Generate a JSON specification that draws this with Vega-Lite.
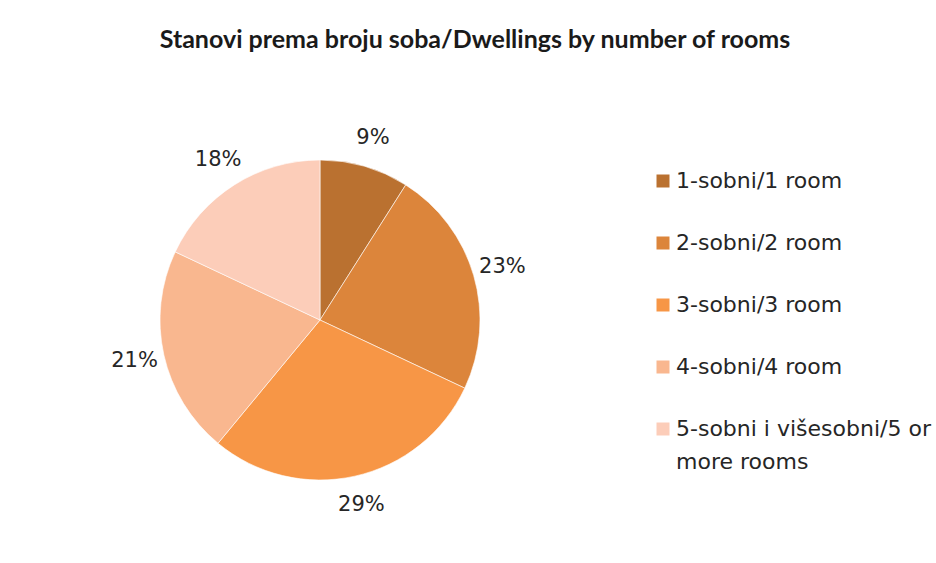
{
  "$schema": "https://vega.github.io/schema/vega-lite/v6.json",
  "width": 640,
  "height": 520,
  "autosize": "none",
  "padding": {"top": 60, "left": 0, "right": 296, "bottom": 0},
  "background": "white",
  "config": {"view": {"stroke": null}, "style": {"guide-label": {"lineHeight": 33}}},
  "title": {
    "text": "Stanovi prema broju soba/Dwellings by number of rooms",
    "font": "Lato",
    "fontSize": 25,
    "fontWeight": "bold",
    "color": "#1a1a1a",
    "anchor": "middle",
    "dx": 155,
    "dy": 25,
    "baseline": "alphabetic",
    "offset": 12
  },
  "data": {
    "values": [
      {"category": "1-sobni/1 room", "value": 9, "label": "9%", "order": 1},
      {"category": "2-sobni/2 room", "value": 23, "label": "23%", "order": 2},
      {"category": "3-sobni/3 room", "value": 29, "label": "29%", "order": 3},
      {"category": "4-sobni/4 room", "value": 21, "label": "21%", "order": 4},
      {"category": "5-sobni i višesobni/5 or more rooms", "value": 18, "label": "18%", "order": 5}
    ]
  },
  "layer": [
    {
      "mark": {"type": "arc", "outerRadius": 160, "stroke": "#ffffff", "strokeWidth": 0.6},
      "encoding": {
        "theta": {"field": "value", "type": "quantitative", "stack": true},
        "order": {"field": "order", "type": "quantitative"},
        "color": {
          "field": "category",
          "type": "nominal",
          "sort": {"field": "order"},
          "scale": {
            "domain": ["1-sobni/1 room", "2-sobni/2 room", "3-sobni/3 room", "4-sobni/4 room", "5-sobni i višesobni/5 or more rooms"],
            "range": ["#BA7130", "#DC853B", "#F79646", "#F9B78F", "#FCCDB9"]
          },
          "legend": {
            "title": null,
            "orient": "none",
            "legendX": 652,
            "legendY": 110,
            "symbolType": "square",
            "symbolSize": 169,
            "symbolStrokeWidth": 0,
            "labelFont": "DejaVu Sans",
            "labelFontSize": 22,
            "labelColor": "#262626",
            "labelLimit": 400,
            "labelOffset": 2,
            "rowPadding": 40,
            "labelExpr": "datum.label == '5-sobni i višesobni/5 or more rooms' ? ['5-sobni i višesobni/5 or', 'more rooms'] : datum.label"
          }
        }
      }
    },
    {
      "mark": {"type": "text", "radius": 190, "font": "DejaVu Sans", "fontSize": 21, "color": "#262626"},
      "encoding": {
        "theta": {"field": "value", "type": "quantitative", "stack": true},
        "order": {"field": "order", "type": "quantitative"},
        "detail": {"field": "category", "type": "nominal"},
        "text": {"field": "label", "type": "nominal"}
      }
    }
  ]
}
